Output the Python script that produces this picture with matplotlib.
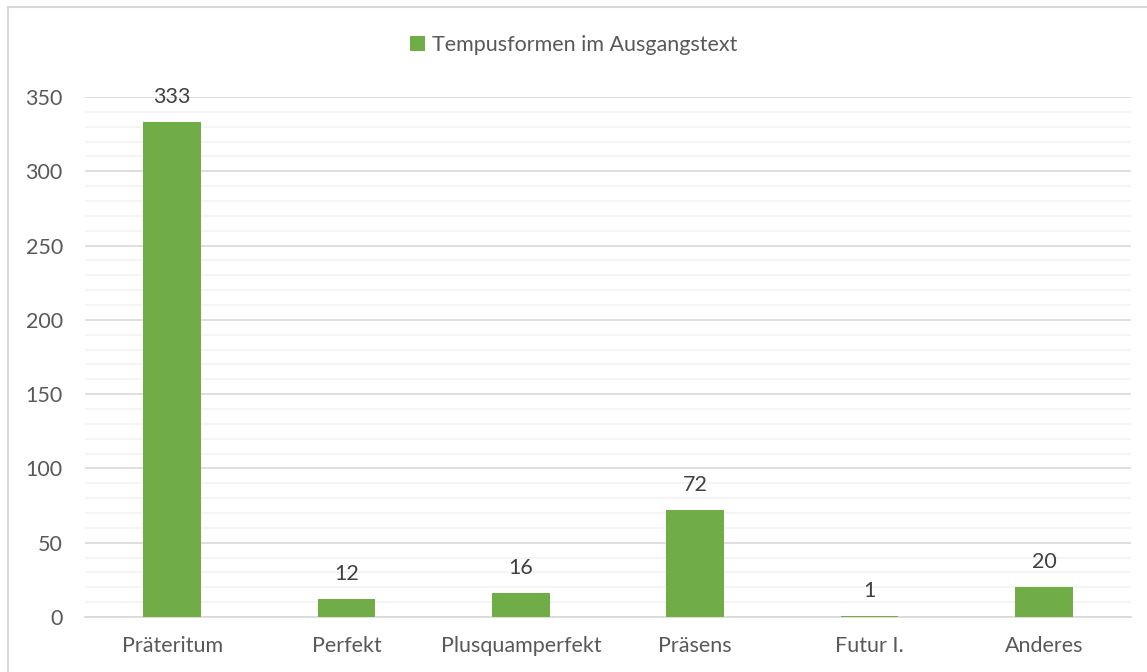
import matplotlib.pyplot as plt
from matplotlib.patches import Rectangle
from matplotlib.ticker import MultipleLocator

# Daten
kategorien = ["Präteritum", "Perfekt", "Plusquamperfekt", "Präsens", "Futur I.", "Anderes"]
werte = [333, 12, 16, 72, 1, 20]
serie = "Tempusformen im Ausgangstext"

plt.rcParams['font.family'] = ['Lato', 'DejaVu Sans']
textfarbe = '#595959'
gruen = '#70AD47'
fs = 15.5

fig = plt.figure(figsize=(11.47, 6.72), dpi=100)
ax = fig.add_axes([0.0741, 0.0818, 0.912, 0.7739])

x = range(len(kategorien))
ax.bar(x, werte, width=0.33, color=gruen, label=serie, zorder=3)

for xi, v in zip(x, werte):
    ax.text(xi, v + 10, str(v), ha='center', va='bottom', fontsize=fs, color='#404040')

ax.set_xlim(-0.5, len(kategorien) - 0.5)
ax.set_ylim(0, 350)
ax.yaxis.set_major_locator(MultipleLocator(50))
ax.yaxis.set_minor_locator(MultipleLocator(10))
ax.grid(axis='y', which='major', color='#D9D9D9', linewidth=1.2, zorder=0)
ax.grid(axis='y', which='minor', color='#F2F2F2', linewidth=1.2, zorder=0)

ax.set_xticks(list(x))
ax.set_xticklabels(kategorien)
ax.tick_params(axis='both', which='both', length=0, labelsize=fs, labelcolor=textfarbe)
ax.tick_params(axis='x', pad=14)
ax.tick_params(axis='y', pad=16)
for s in ['top', 'right', 'left']:
    ax.spines[s].set_visible(False)
ax.spines['bottom'].set_color('#D9D9D9')
ax.spines['bottom'].set_linewidth(1.2)

leg = fig.legend(loc='center', bbox_to_anchor=(0.5, 1 - 45 / 672), frameon=False,
                 fontsize=fs, handlelength=0.7, handleheight=0.7, handletextpad=0.3)
for t in leg.get_texts():
    t.set_color(textfarbe)

# Rahmen
fig.patches.append(Rectangle((8 / 1147, -0.05), 1.2, 1 - 7 / 672 + 0.05, transform=fig.transFigure,
                             fill=False, edgecolor='#D9D9D9', linewidth=1.5))

fig.savefig('out.png', dpi=100)
